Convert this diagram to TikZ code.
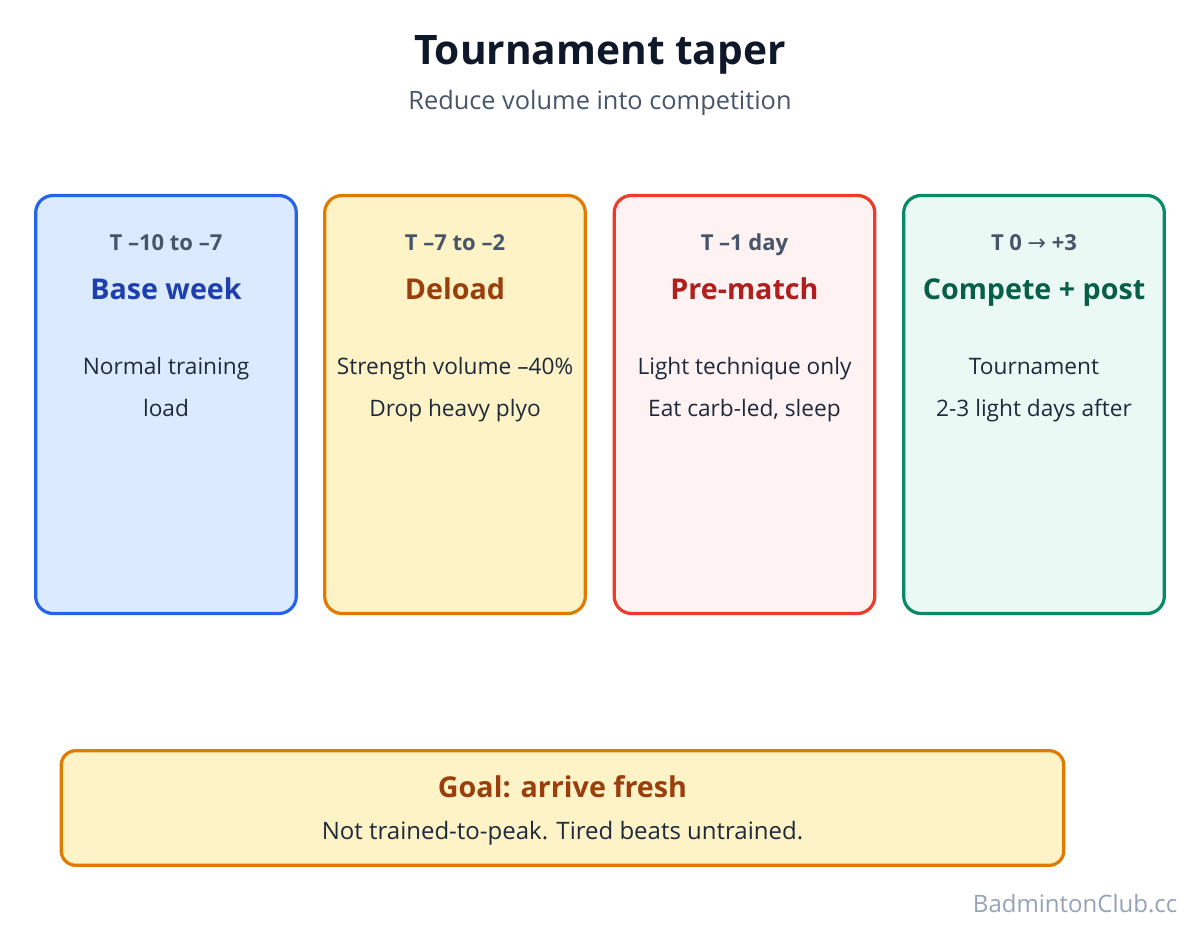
\documentclass[tikz,border=0pt]{standalone}
\usepackage{fontspec}
\setmainfont{Open Sans}
\newfontfamily\arrowfont{DejaVu Sans}
\usetikzlibrary{positioning}

\definecolor{ink}{HTML}{0F172A}
\definecolor{slate}{HTML}{475569}
\definecolor{body}{HTML}{1E293B}
\definecolor{mark}{HTML}{94A3B8}
\definecolor{bluestroke}{HTML}{2563EB}
\definecolor{bluefill}{HTML}{DBEAFE}
\definecolor{bluetext}{HTML}{1E40AF}
\definecolor{orangestroke}{HTML}{E07A00}
\definecolor{orangefill}{HTML}{FEF3C7}
\definecolor{orangetext}{HTML}{9A3F0C}
\definecolor{redstroke}{HTML}{EE3B2B}
\definecolor{redfill}{HTML}{FEF2F2}
\definecolor{redtext}{HTML}{B01E1E}
\definecolor{greenstroke}{HTML}{078A66}
\definecolor{greenfill}{HTML}{EAF9F4}
\definecolor{greentext}{HTML}{065F46}

\begin{document}
\begin{tikzpicture}[x=0.75pt, y=-0.75pt,
	card/.style={rounded corners=13pt, line width=2.4pt, minimum width=195.5pt, minimum height=313.5pt, inner sep=0pt},
	phase/.style={anchor=base, text=slate, font=\fontsize{16.5}{20}\selectfont\bfseries},
	heading/.style={anchor=base, font=\fontsize{21.5}{26}\selectfont\bfseries},
	note/.style={anchor=base, text=body, font=\fontsize{17}{20}\selectfont, align=center}]
	\useasboundingbox (0,0) rectangle (1200,930);

	\node[anchor=base] (title) at (600,65) {\color{ink}\fontsize{30.5}{36}\selectfont\bfseries Tournament taper};
	\node[anchor=base] (subtitle) at (600,110) {\color{slate}\fontsize{19}{23}\selectfont Reduce volume into competition};

	% phase cards
	\node[card, draw=bluestroke, fill=bluefill] (base) at (166,404.5) {};
	\node[card, draw=orangestroke, fill=orangefill] (deload) at (455,404.5) {};
	\node[card, draw=redstroke, fill=redfill] (prematch) at (744.5,404.5) {};
	\node[card, draw=greenstroke, fill=greenfill] (compete) at (1034,404.5) {};

	\node[phase] (baseT) at (166,251) {T –10 to –7};
	\node[heading, text=bluetext] (baseH) at (166,300) {Base week};
	\node[note] (baseA) at (166,375) {Normal training};
	\node[note] (baseB) at (166,417) {load};

	\node[phase] (deloadT) at (455,251) {T –7 to –2};
	\node[heading, text=orangetext] (deloadH) at (455,300) {Deload};
	\node[note] (deloadA) at (455,375) {Strength volume –40\%};
	\node[note] (deloadB) at (455,417) {Drop heavy plyo};

	\node[phase] (prematchT) at (744.5,251) {T –1 day};
	\node[heading, text=redtext] (prematchH) at (744.5,300) {Pre-match};
	\node[note] (prematchA) at (744.5,375) {Light technique only};
	\node[note] (prematchB) at (744.5,417) {Eat carb-led, sleep};

	\node[phase] (competeT) at (1034,251) {T 0 {\arrowfont\mdseries →} +3};
	\node[heading, text=greentext] (competeH) at (1034,300) {Compete + post};
	\node[note] (competeA) at (1034,375) {Tournament};
	\node[note] (competeB) at (1034,417) {2-3 light days after};

	% goal
	\node[card, draw=orangestroke, fill=orangefill, minimum width=752pt, minimum height=86pt, rounded corners=11pt] (goal) at (562.5,808) {};
	\node[heading, text=orangetext] (goalH) at (562.5,797) {Goal: arrive fresh};
	\node[note, font=\fontsize{18}{22}\selectfont] (goalB) at (562.5,839) {Not trained-to-peak. Tired beats untrained.};

	\node[anchor=base east, text=mark, font=\fontsize{18}{22}\selectfont] (credit) at (1182,912) {BadmintonClub.cc};
\end{tikzpicture}
\end{document}
